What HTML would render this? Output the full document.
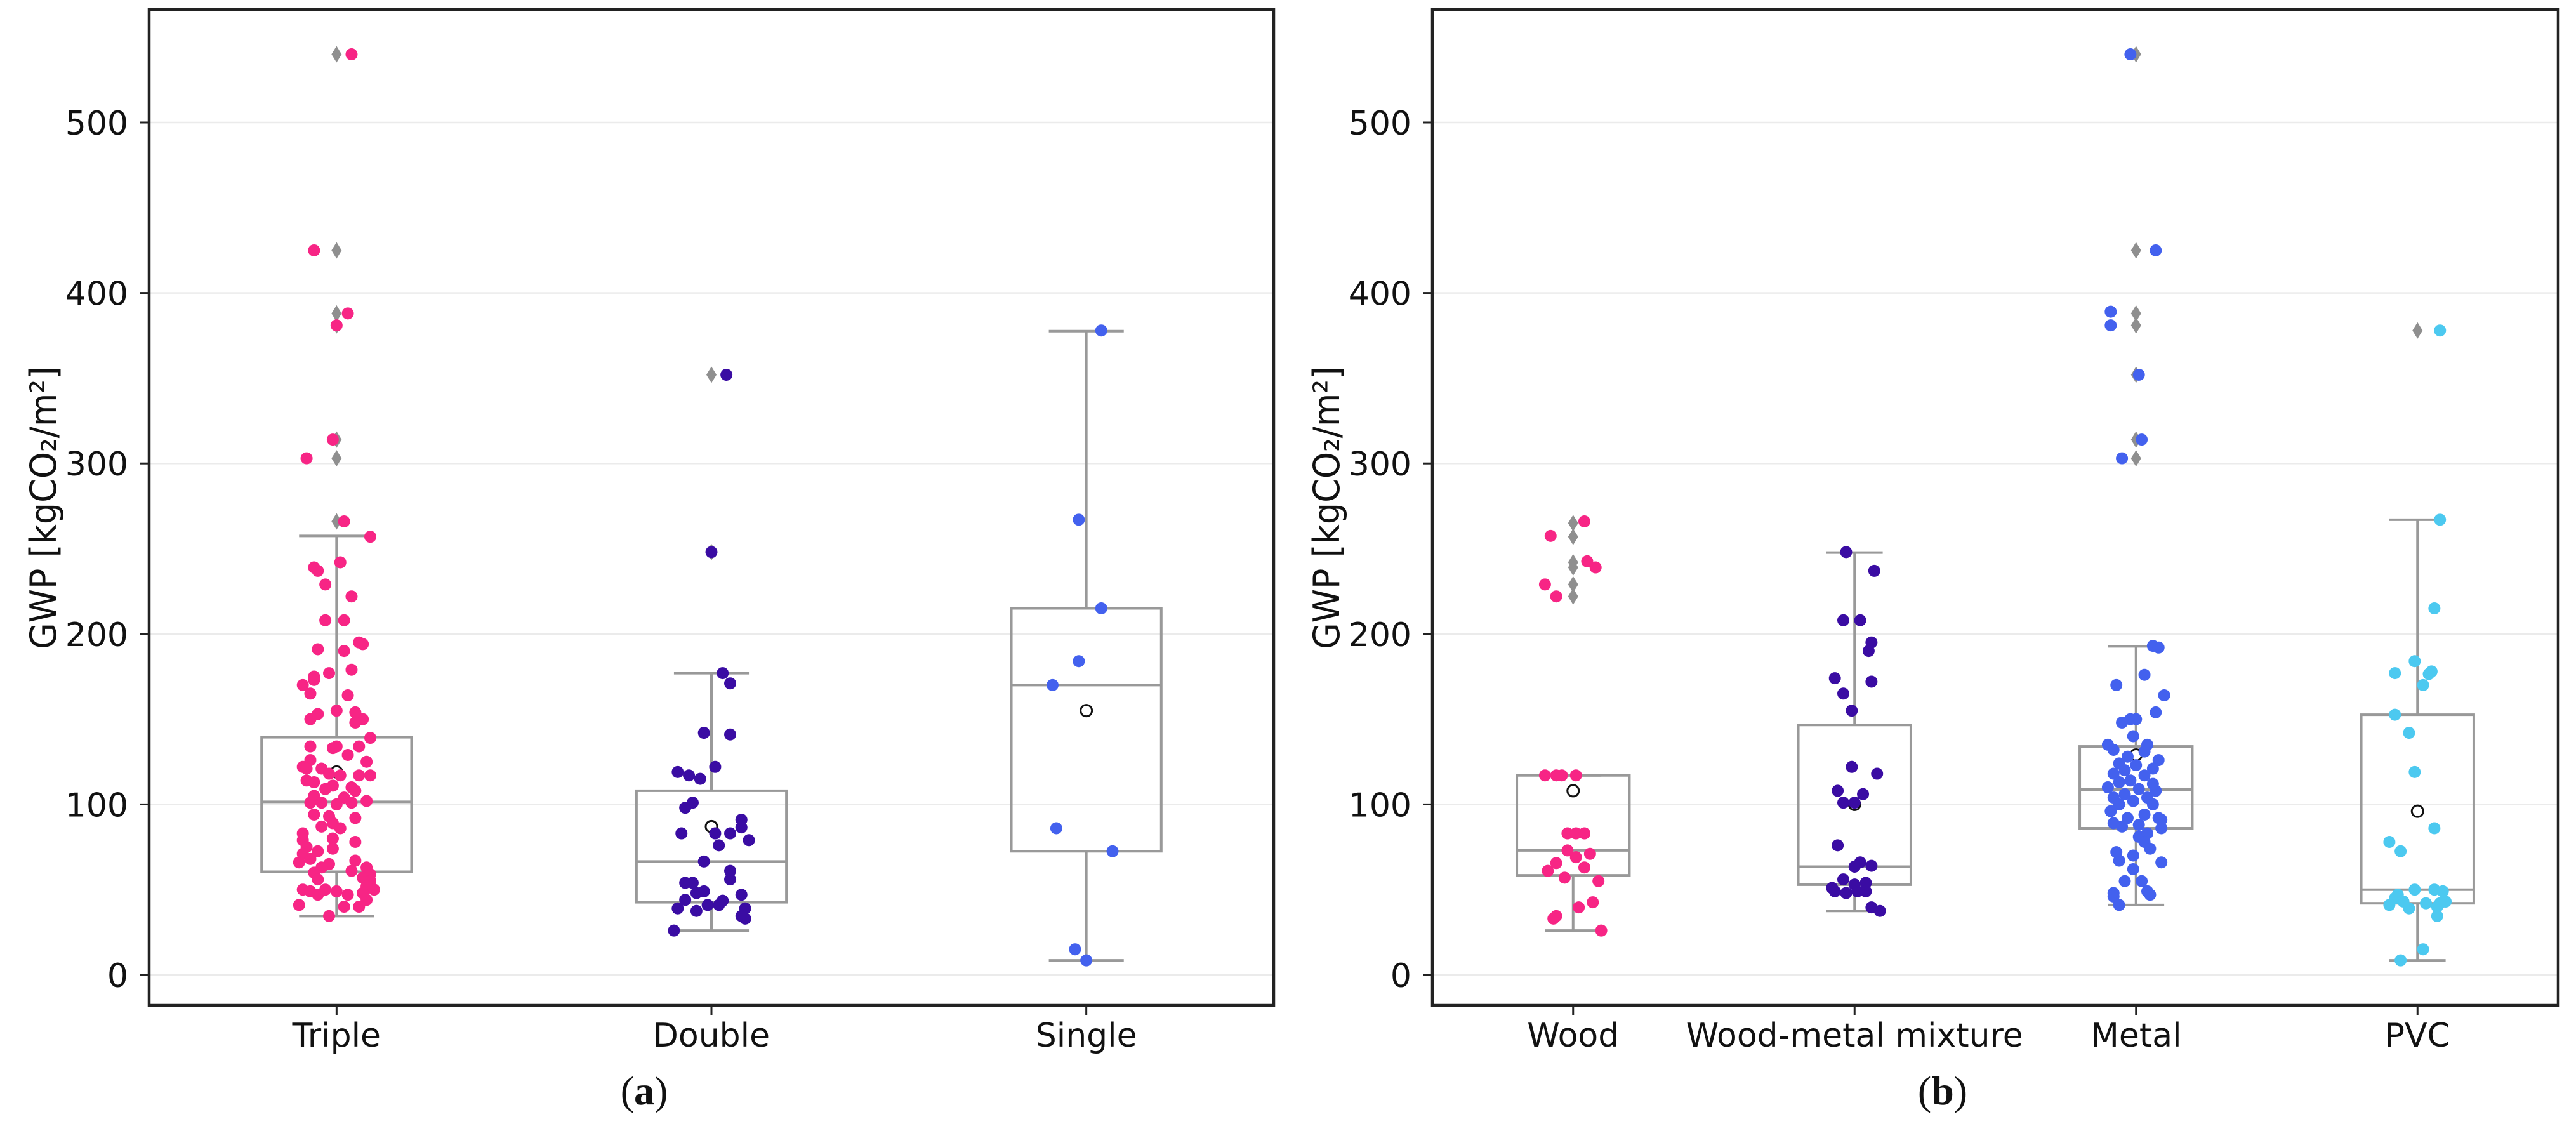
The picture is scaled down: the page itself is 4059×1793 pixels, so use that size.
<!DOCTYPE html>
<html><head><meta charset="utf-8"><style>
html,body{margin:0;padding:0;background:#fff;}
svg{display:block;}
text{font-family:"DejaVu Sans","Liberation Sans",sans-serif;fill:#111;}
</style></head><body>
<svg id="chart" width="4059" height="1793" viewBox="0 0 4059 1793" xmlns="http://www.w3.org/2000/svg"></svg>
<script>
// ---- shared axis ticks ----
const yTicks = [0,100,200,300,400,500];
const yTickLabels = ["0","100","200","300","400","500"];

// ---- panel (a): glazing ----
const catsA = ["Triple","Double","Single"];
const colorsA = ["#f72585","#3a0ca3","#4361ee"];
const tripleVals = [540,425,388,381,314,303,266,257,242,239,237,229,222,208,208,195,194,191,190,179,177,175,173,170,165,164,155,154,153,150,150,148,139,
134,133,134,134,129,126,125,122,121,121,118,117,117,117,114,113,111,110,109,108,105,104,102,101,101,101,100,94,93,92,89,87,86,83,80,79,78,75,74,72.5,71,68,67,66,65,63,63,61,60,59,56,57,55,52,50,49,50,49,48,50,47,47,41,40,40,44,34.5];
const tripleJit = [0.04,-0.06,0.03,0,-0.01,-0.08,0.02,0.09,0.01,-0.06,-0.05,-0.03,0.04,-0.03,0.02,0.06,0.07,-0.05,0.02,0.04,-0.02,-0.06,-0.06,-0.09,-0.07,0.03,0,0.05,-0.05,-0.07,0.07,0.05,0.09,
-0.07,-0.01,0,0.06,0.03,-0.07,0.08,-0.09,-0.08,-0.04,-0.02,0.01,0.06,0.09,-0.08,-0.06,-0.01,0.04,-0.03,0.05,-0.06,0.02,0.08,-0.07,-0.04,0.04,0,-0.06,-0.02,0.05,-0.01,-0.04,0.01,-0.09,-0.01,-0.09,0.05,-0.08,-0.01,-0.05,-0.09,-0.07,0.05,-0.1,-0.02,-0.04,0.08,0.04,-0.06,0.09,-0.05,0.07,0.09,0.08,-0.09,-0.07,-0.03,0,0.07,0.1,-0.05,0.03,-0.1,0.02,0.06,0.08,-0.02];
const doubleVals = [352,248,177,171,142,141,122,119,117,115,101,98,91,86.5,83,83,83,79,76,66.5,61,56,54,54,49,48,47,44,43.5,41,41,39,37.5,39,34.5,33,26];
const doubleJit = [0.04,0,0.03,0.05,-0.02,0.05,0.01,-0.09,-0.06,-0.03,-0.05,-0.07,0.08,0.08,0.01,0.05,-0.08,0.1,0.02,-0.02,0.05,0.05,-0.07,-0.05,-0.02,-0.04,0.08,-0.07,0.03,-0.01,0.02,-0.09,-0.04,0.09,0.08,0.09,-0.1];
const singleVals = [378,267,215,184,170,86,72.5,15,8.5];
const singleJit = [0.04,-0.02,0.04,-0.02,-0.09,-0.08,0.07,-0.03,0];
// box stats: q1, median, q3, lower whisker, upper whisker, mean
const q1A = [60.5,42.6,72.5];
const medA = [101.5,66.5,170];
const q3A = [139.4,108,215];
const loA = [34.5,26,8.5];
const hiA = [257.5,177,377.6];
const meanA = [119,87,155];
const fliersTriple = [540,425,388,381,314,303,266];
const fliersDouble = [352,248];
const fliersSingle = [];

// ---- panel (b): frame material ----
const catsB = ["Wood","Wood-metal mixture","Metal","PVC"];
const colorsB = ["#f72585","#3a0ca3","#4361ee","#4cc9f0"];
const woodVals = [266,257.5,242.6,239,229,222,117,117,117,117,83,83,83,73,71,65.6,69,61,63,57,55,42.6,39.6,34.5,33,26];
const woodJit = [0.04,-0.08,0.05,0.08,-0.1,-0.06,-0.1,-0.06,-0.04,0.01,-0.02,0.01,0.04,-0.02,0.06,-0.06,0.01,-0.09,0.04,-0.03,0.09,0.07,0.02,-0.06,-0.07,0.1];
const wmmVals = [248,237,208,208,195,190,172,174,165,155,122,118,108,106,101,101,76,66,64,63.5,56,53,54,51,49,48,49,49,39.6,37.5];
const wmmJit = [-0.03,0.07,-0.04,0.02,0.06,0.05,0.06,-0.07,-0.04,-0.01,-0.01,0.08,-0.06,0.03,-0.04,0,-0.06,0.02,0.06,0,-0.04,0,0.04,-0.08,0.04,-0.03,0.01,-0.07,0.06,0.09];
const metalVals = [540,425,389,381,352,314,303,193,192,176,170,164,154,150,150,148,140,135,135,132,131,128,126,124,123,121,120,118,117,114,113,112,110,109,108,106,104,104,102,100,100,96,94,92,92,91,89,88,87,86,83,81,78,74,72,70,67,66,62,55,55,49,48,47,46,41];
const metalJit = [-0.02,0.07,-0.09,-0.09,0.01,0.02,-0.05,0.06,0.08,0.03,-0.07,0.1,0.07,0,-0.02,-0.05,-0.01,-0.1,0.04,-0.08,0.03,-0.03,0.08,-0.06,0,0.06,-0.04,-0.08,0.03,-0.02,-0.06,0.06,-0.1,0.01,0.07,-0.04,-0.08,0.04,-0.01,-0.06,0.06,-0.09,0.03,-0.03,0.08,0.09,-0.08,0.01,-0.05,0.09,0.04,0.01,0.03,0.05,-0.07,-0.01,-0.06,0.09,-0.01,-0.04,0.02,0.04,-0.08,0.05,-0.08,-0.06];
const pvcVals = [378,267,215,184,178,176.5,177,170,152.6,142,119,86,78,72.5,50,50,49,47,45,43,41,39,42,42,40,43,34.5,15,8.5];
const pvcJit = [0.08,0.08,0.06,-0.01,0.05,0.04,-0.08,0.02,-0.08,-0.03,-0.01,0.06,-0.1,-0.06,-0.01,0.06,0.09,-0.07,-0.08,-0.05,-0.1,-0.03,0.08,0.03,0.07,0.1,0.07,0.02,-0.06];
const q1B = [58.4,52.9,86,42];
const medB = [73,63.5,108.7,50];
const q3B = [117,146.6,134,152.6];
const loB = [26,37.5,41,8.5];
const hiB = [117,247.7,192.7,267];
const meanB = [108,100,129,96];
const fliersWood = [265,257,242,239,229,222];
const fliersWmm = [];
const fliersMetal = [540,425,388,381,352,314,303];
const fliersPvc = [378];

const NS = "http://www.w3.org/2000/svg";
const svg = document.getElementById("chart");
function mk(tag, attrs, parent){
  const e = document.createElementNS(NS, tag);
  for (const k in attrs) e.setAttribute(k, attrs[k]);
  (parent||svg).appendChild(e);
  return e;
}

function drawPanel(p){
  const g = mk("g", {});
  
  
  const top = 15, bot = 1584, y0 = 1536, perUnit = (1536-193)/500;
  const yS = v => y0 - v*perUnit;
  const n = p.cats.length, step = (p.right - p.left)/n;
  const xS = i => p.left + step*(i+0.5);

  yTicks.forEach((t,i)=>{
    const gl = mk("line",{x1:p.left,x2:p.right,y1:yS(t),y2:yS(t),stroke:"#ebebeb","stroke-width":2.5},g);
    
    
    const tk = mk("line",{x1:p.left-15,x2:p.left,y1:yS(t),y2:yS(t),stroke:"#222","stroke-width":3},g);
    
    
    const tl = mk("text",{x:p.left-33,y:yS(t)+19,"text-anchor":"end","font-size":52},g);
    tl.textContent = yTickLabels[i];
    
    
  });

  const yt = mk("text",{x:0,y:0,"font-size":57,"text-anchor":"middle",transform:`translate(${p.left-147},800) rotate(-90)`,textLength:446,lengthAdjust:"spacingAndGlyphs"},g);
  yt.textContent = "GWP [kgCO₂/m²]";
  
  

  const bw = step*0.4, cw = step*0.2;
  p.cats.forEach((c,i)=>{
    const cx = xS(i);
    const bg = mk("g",{},g);
    
    
    const st = {stroke:"#999","stroke-width":4,fill:"none"};
    const w1 = mk("line",Object.assign({x1:cx,x2:cx,y1:yS(p.q3[i]),y2:yS(p.hi[i])},st),bg);
    
    
    const w2 = mk("line",Object.assign({x1:cx,x2:cx,y1:yS(p.q1[i]),y2:yS(p.lo[i])},st),bg);
    
    
    const c1 = mk("line",Object.assign({x1:cx-cw/2,x2:cx+cw/2,y1:yS(p.hi[i]),y2:yS(p.hi[i])},st),bg);
    
    
    const c2 = mk("line",Object.assign({x1:cx-cw/2,x2:cx+cw/2,y1:yS(p.lo[i]),y2:yS(p.lo[i])},st),bg);
    
    
    const r = mk("rect",Object.assign({x:cx-bw/2,y:yS(p.q3[i]),width:bw,height:yS(p.q1[i])-yS(p.q3[i])},st),bg);
    
    
    const md = mk("line",Object.assign({x1:cx-bw/2,x2:cx+bw/2,y1:yS(p.med[i]),y2:yS(p.med[i])},st),bg);
    
    
    p.fliers[i].forEach(v=>{
      const y = yS(v);
      const d = mk("polygon",{points:`${cx},${y-13} ${cx+8},${y} ${cx},${y+13} ${cx-8},${y}`,fill:"#8f8f8f"},bg);
      
      
    });
    const mc = mk("circle",{cx:cx,cy:yS(p.mean[i]),r:9,fill:"#fff",stroke:"#111","stroke-width":3},bg);
    
    
    const vals = p.vals[i], jit = p.jit[i];
    vals.forEach((v,k)=>{
      const pt = mk("circle",{cx:cx+jit[k]*step,cy:yS(v),r:9.5,fill:p.colors[i]},bg);
      
      
    });
    const xt = mk("line",{x1:cx,x2:cx,y1:bot,y2:bot+15,stroke:"#222","stroke-width":3},g);
    
    
    const xl = mk("text",{x:cx,y:1649,"text-anchor":"middle","font-size":52},g);
    xl.textContent = c;
    
    
  });

  const fr = mk("rect",{x:p.left,y:top,width:p.right-p.left,height:bot-top,fill:"none",stroke:"#222","stroke-width":4.5},g);
  
  

  const cap = mk("text",{x:p.capX,y:1740,"text-anchor":"middle","font-size":64,style:"font-family:'Liberation Serif',serif"},g);
  cap.innerHTML = '(<tspan font-weight="bold">'+p.cap+'</tspan>)';
  
  
}

drawPanel({name:"panel-a-glazing", left:235, right:2007, cats:catsA, colors:colorsA,
  vals:[tripleVals,doubleVals,singleVals], jit:[tripleJit,doubleJit,singleJit],
  q1:q1A, med:medA, q3:q3A, lo:loA, hi:hiA, mean:meanA,
  fliers:[fliersTriple,fliersDouble,fliersSingle], cap:"a", capX:1015});
drawPanel({name:"panel-b-frame-material", left:2257, right:4031, cats:catsB, colors:colorsB,
  vals:[woodVals,wmmVals,metalVals,pvcVals], jit:[woodJit,wmmJit,metalJit,pvcJit],
  q1:q1B, med:medB, q3:q3B, lo:loB, hi:hiB, mean:meanB,
  fliers:[fliersWood,fliersWmm,fliersMetal,fliersPvc], cap:"b", capX:3061});
</script>
</body></html>
